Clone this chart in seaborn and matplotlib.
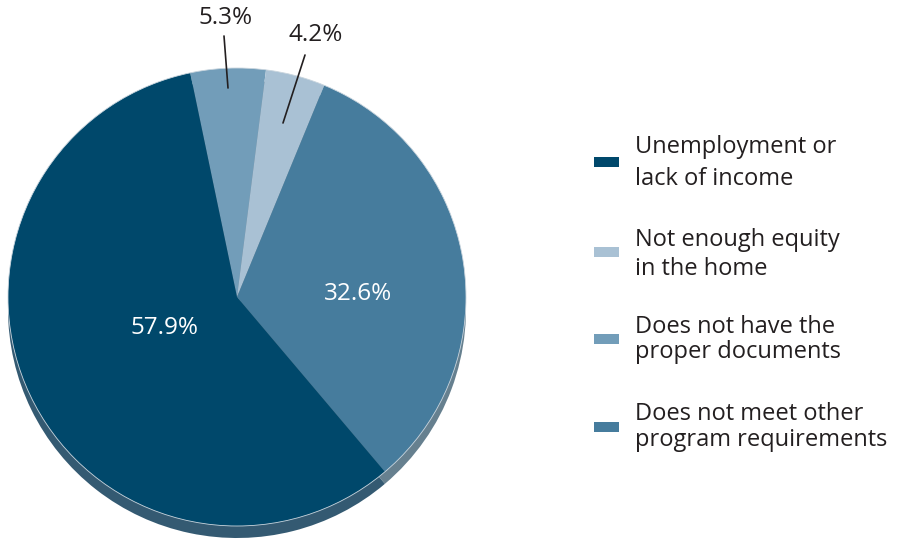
import matplotlib
matplotlib.use("Agg")
import matplotlib.pyplot as plt
import seaborn as sns

sns.set_theme(style="white")
plt.rcParams["font.family"] = ["Open Sans", "DejaVu Sans"]

# Reasons, in the order they appear in the legend
reasons = ["Unemployment or\nlack of income",
           "Not enough equity\nin the home",
           "Does not have the\nproper documents",
           "Does not meet other\nprogram requirements"]
shares = [57.9, 4.2, 5.3, 32.6]
colors = ["#00486b", "#a9c1d4", "#729db9", "#467c9d"]
shadow_colors = ["#345a72", "#8a9aa5", "#6a8597", "#66808f"]

# Order of the slices clockwise from the top of the pie
slice_order = [2, 1, 3, 0]

W, H = 897, 539
fig = plt.figure(figsize=(W / 100, H / 100), dpi=100)
ax = fig.add_axes([0, 0, 1, 1])

cx, cy, r = 237, H - 297, 229
vals = [shares[i] for i in slice_order]
start = 101.8

# darker rim below the pie for a raised look
ax.pie(vals, colors=[shadow_colors[i] for i in slice_order], startangle=start,
       counterclock=False, center=(cx, cy - 12), radius=r,
       wedgeprops=dict(linewidth=0), frame=True)
ax.pie(vals, colors=[colors[i] for i in slice_order], startangle=start,
       counterclock=False, center=(cx, cy), radius=r,
       wedgeprops=dict(linewidth=0), frame=True)
ax.add_patch(plt.Circle((cx, cy), r, fill=False, ec="#c9d5de", lw=0.6))
ax.set_xlim(0, W)
ax.set_ylim(0, H)
ax.set_aspect("equal")
ax.axis("off")

fs = 17
fs_val = 17.5
txt = "#231f20"
# values inside the big slices
ax.text(165, H - 328, f"{shares[0]}%", color="white", fontsize=fs_val, ha="center", va="center")
ax.text(358, H - 294, f"{shares[3]}%", color="white", fontsize=fs_val, ha="center", va="center")
# values of the small slices with leader lines
ax.text(226, H - 18, f"{shares[2]}%", color=txt, fontsize=fs_val, ha="center", va="center")
ax.plot([224, 228], [H - 36, H - 88], color=txt, lw=1.2)
ax.text(316, H - 35, f"{shares[1]}%", color=txt, fontsize=fs_val, ha="center", va="center")
ax.plot([305, 283], [H - 55, H - 123], color=txt, lw=1.2)

# legend
sq_y = [162, 252, 339, 427]
line_base = [(153, 185), (246, 275), (333, 358), (420, 446)]
for i, lab in enumerate(reasons):
    ax.add_patch(plt.Rectangle((594, H - sq_y[i] - 5), 25, 10, color=colors[i], lw=0))
    for line, yb in zip(lab.split("\n"), line_base[i]):
        ax.text(635, H - yb, line, color=txt, fontsize=fs, ha="left", va="baseline")

fig.savefig("out.png", dpi=100)
